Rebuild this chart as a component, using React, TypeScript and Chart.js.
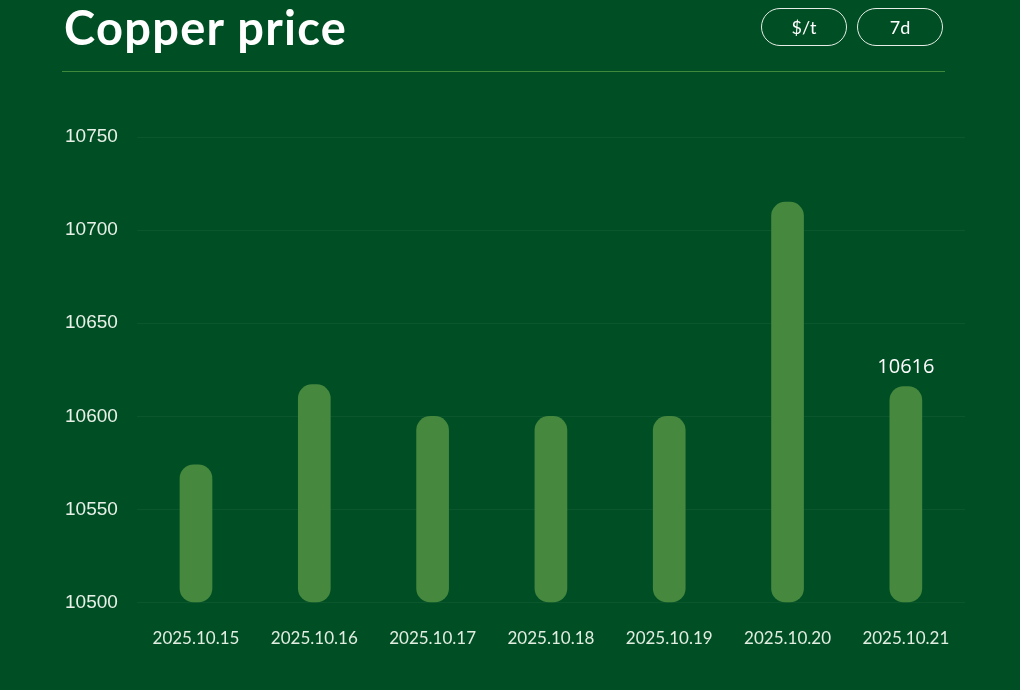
import React, { useEffect, useRef } from "react";
import { Chart, registerables } from "chart.js";

Chart.register(...registerables);

const categories = ["2025.10.15", "2025.10.16", "2025.10.17", "2025.10.18", "2025.10.19", "2025.10.20", "2025.10.21"];
const prices = [10574, 10617, 10600, 10600, 10600, 10715, 10616];
const yMin = 10500;
const yMax = 10750;
const yStep = 50;
const labelIndex = 6;

const BG = "#004f24";
const BAR = "#47883f";

const valueLabelPlugin = {
  id: "valueLabel",
  afterDatasetsDraw(chart: any) {
    const meta = chart.getDatasetMeta(0);
    const el = meta.data[labelIndex];
    if (!el) return;
    const ctx = chart.ctx;
    ctx.save();
    ctx.fillStyle = "#ffffff";
    ctx.font = "20px 'Open Sans'";
    ctx.textAlign = "center";
    ctx.textBaseline = "bottom";
    ctx.fillText(String(prices[labelIndex]), el.x, el.y - 9);
    ctx.restore();
  },
};

export default function App() {
  const ref = useRef<HTMLCanvasElement | null>(null);

  useEffect(() => {
    document.body.style.margin = "0";
    const chart = new Chart(ref.current as HTMLCanvasElement, {
      type: "bar",
      data: {
        labels: categories,
        datasets: [
          {
            data: prices,
            base: yMin,
            backgroundColor: BAR,
            borderRadius: 14,
            borderSkipped: false,
            barThickness: 32,
          } as any,
        ],
      },
      options: {
        animation: false,
        responsive: false,
        maintainAspectRatio: false,
        layout: { padding: { top: 137, left: 46, right: 55, bottom: 15 } },
        plugins: { legend: { display: false }, tooltip: { enabled: false } },
        scales: {
          x: {
            grid: { display: false, drawTicks: false },
            border: { display: false },
            ticks: { color: "#e2ede2", font: { family: "Lato", size: 17 }, padding: 26 },
          },
          y: {
            min: yMin,
            max: yMax,
            grid: { color: "rgba(255,255,255,0.045)", drawTicks: false },
            border: { display: false },
            ticks: {
              stepSize: yStep,
              color: "#e8f0e8",
              font: { family: "'Liberation Sans'", size: 19 },
              padding: 19,
              callback: (v: any) => String(v),
            },
          },
        },
      },
      plugins: [valueLabelPlugin],
    });
    return () => chart.destroy();
  }, []);

  const btn: React.CSSProperties = {
    position: "absolute",
    top: 8,
    width: 86,
    height: 38,
    border: "1px solid #e6ece6",
    borderRadius: 19,
    color: "#ffffff",
    fontFamily: "Lato",
    fontSize: 18,
    display: "flex",
    alignItems: "center",
    justifyContent: "center",
    boxSizing: "border-box",
  };

  return (
    <div style={{ position: "relative", width: 1020, height: 690, background: BG, overflow: "hidden" }}>
      <canvas ref={ref} width={1020} height={690} style={{ position: "absolute", left: 0, top: 0 }} />
      <div
        style={{
          position: "absolute",
          left: 64,
          top: 1,
          color: "#ffffff",
          fontFamily: "Lato",
          fontWeight: 700,
          fontSize: 47,
          letterSpacing: "1.3px",
          lineHeight: "52px",
        }}
      >
        Copper price
      </div>
      <div style={{ ...btn, left: 761 }}>$/t</div>
      <div style={{ ...btn, left: 857 }}>7d</div>
      <div style={{ position: "absolute", left: 62, top: 71, width: 883, height: 1, background: "#3e8a3a" }} />
    </div>
  );
}
